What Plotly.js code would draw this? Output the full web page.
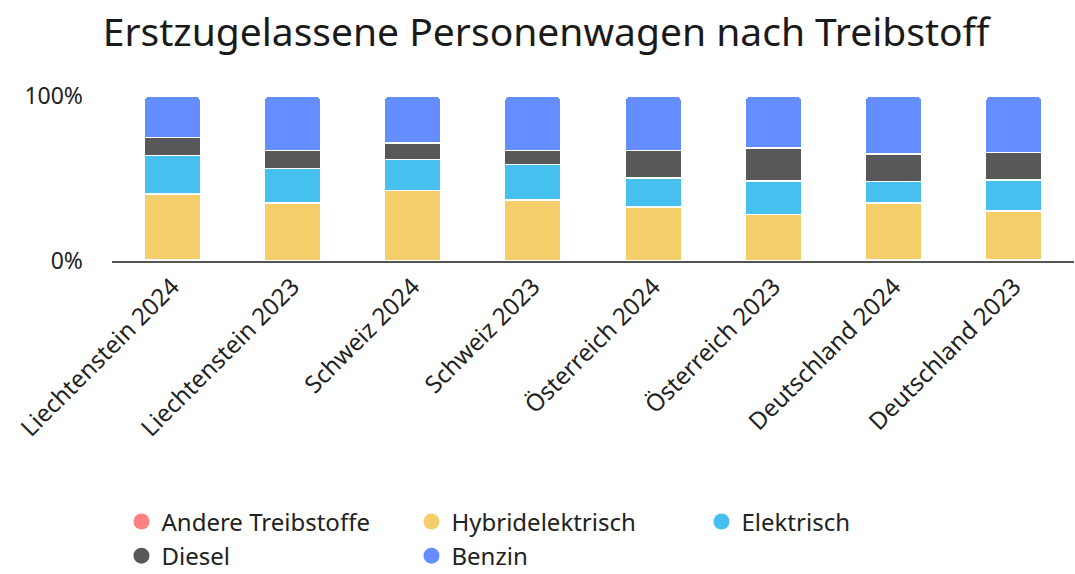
<!DOCTYPE html>
<html>
<head>
<meta charset="utf-8">
<script src="https://cdn.plot.ly/plotly-3.0.1.min.js"></script>
<style>
html, body { margin: 0; padding: 0; background: #fff; }
#chart { width: 1075px; height: 574px; }
</style>
</head>
<body>
<div id="chart"></div>
<script>
// Anteile in Prozent, von unten nach oben gestapelt
const categories = ['Liechtenstein 2024', 'Liechtenstein 2023', 'Schweiz 2024', 'Schweiz 2023',
	'Österreich 2024', 'Österreich 2023', 'Deutschland 2024', 'Deutschland 2023'];
const andere = [1.0, 0.1, 0.1, 0.1, 0.1, 0.1, 0.6, 0.6];
const hybrid = [39.5, 35.0, 42.6, 37.0, 32.5, 28.0, 34.5, 29.8];
const elektrisch = [23.3, 20.9, 18.9, 21.3, 17.8, 20.3, 13.2, 18.8];
const diesel = [11.1, 11.1, 10.0, 8.7, 16.6, 20.1, 16.6, 16.6];
const benzin = [25.1, 32.9, 28.4, 32.9, 33.0, 31.5, 35.1, 34.2];

const yTicks = [0, 100];
const yTickText = ['0%', '100%'];

const seriesNames = ['Andere Treibstoffe', 'Hybridelektrisch', 'Elektrisch', 'Diesel', 'Benzin'];
const seriesValues = [andere, hybrid, elektrisch, diesel, benzin];
const seriesColors = ['#FF8080', '#F3CE6A', '#46C1EF', '#58585A', '#648DFF'];

const font = 'Noto Sans, Lato, sans-serif';

const traces = [];
// bars
seriesNames.forEach((name, i) => {
	traces.push({
		type: 'bar',
		name: name,
		x: categories,
		y: seriesValues[i],
		marker: { color: seriesColors[i], line: { color: '#ffffff', width: 1.5 } },
		showlegend: false,
		hovertemplate: '%{x}<br>' + name + ': %{y:.1f}%<extra></extra>'
	});
});
// legend entries with round markers
seriesNames.forEach((name, i) => {
	traces.push({
		type: 'scatter',
		mode: 'markers',
		name: name,
		x: [null],
		y: [null],
		marker: { color: seriesColors[i], size: 23, symbol: 'circle' },
		showlegend: true
	});
});

const layout = {
	width: 1075,
	height: 574,
	margin: { l: 112, r: 1, t: 96, b: 313 },
	paper_bgcolor: '#ffffff',
	plot_bgcolor: '#ffffff',
	font: { family: font, color: '#222222', size: 23 },
	title: {
		text: 'Erstzugelassene Personenwagen nach Treibstoff',
		font: { family: font, size: 39, color: '#1a1a1a' },
		x: 0.508,
		xanchor: 'center',
		y: 0.943,
		yanchor: 'middle'
	},
	barmode: 'stack',
	barnorm: 'percent',
	bargap: 0.53,
	barcornerradius: 5,
	xaxis: {
		type: 'category',
		tickangle: -45,
		showline: true,
		linecolor: '#555555',
		linewidth: 2,
		showgrid: false,
		ticks: '',
		tickfont: { size: 24, color: '#222222' }
	},
	yaxis: {
		range: [0, 100],
		tickvals: yTicks,
		ticktext: yTickText,
		showgrid: true,
		gridcolor: '#e6e6e6',
		zeroline: false,
		ticklabelstandoff: 28,
		tickfont: { size: 23, color: '#222222' }
	},
	showlegend: true,
	legend: {
		orientation: 'h',
		xref: 'container',
		yref: 'container',
		x: 0.113,
		y: 0.13,
		xanchor: 'left',
		yanchor: 'top',
		entrywidth: 245,
		entrywidthmode: 'pixels',
		itemwidth: 30,
		traceorder: 'normal',
		font: { size: 24, color: '#222222' }
	}
};

Plotly.newPlot('chart', traces, layout, { displayModeBar: false, responsive: false });
</script>
</body>
</html>
